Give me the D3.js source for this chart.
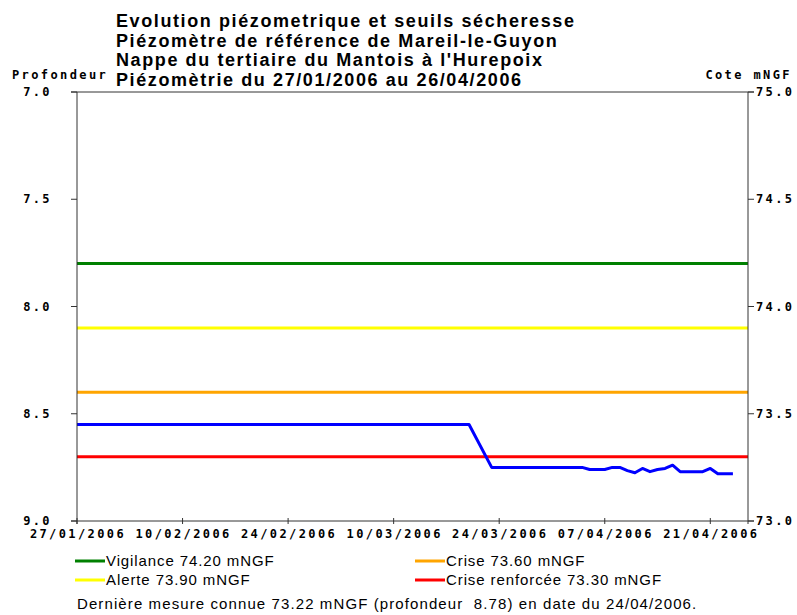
<!DOCTYPE html>
<html>
<head>
<meta charset="utf-8">
<script src="https://d3js.org/d3.v7.min.js"></script>
<style>
    body { margin: 0; background: #fff; }
    .mono { font-family: "DejaVu Sans Mono", monospace; font-weight: bold; font-size: 12px; letter-spacing: 2.4px; }
    .sans { font-family: "Liberation Sans", Arial, sans-serif; }
</style>
</head>
<body>
<script>

// Title lines
var titleLines = [
    "Evolution piézometrique et seuils sécheresse",
    "Piézomètre de référence de Mareil-le-Guyon",
    "Nappe du tertiaire du Mantois à l'Hurepoix",
    "Piézomètrie du 27/01/2006 au 26/04/2006"
];

// Measurement dates and depths (profondeur, m)
var dates = ["27/01/2006", "20/03/2006", "23/03/2006", "04/04/2006", "05/04/2006", "07/04/2006",
             "08/04/2006", "09/04/2006", "10/04/2006", "11/04/2006", "12/04/2006", "13/04/2006",
             "14/04/2006", "15/04/2006", "16/04/2006", "17/04/2006", "18/04/2006", "19/04/2006",
             "20/04/2006", "21/04/2006", "22/04/2006", "23/04/2006", "24/04/2006"];
var depths = [8.55, 8.55, 8.75, 8.75, 8.76, 8.76,
              8.75, 8.75, 8.765, 8.775, 8.755, 8.77,
              8.76, 8.755, 8.74, 8.77, 8.77, 8.77,
              8.77, 8.755, 8.78, 8.78, 8.78];

// Drought thresholds (mNGF)
var thresholdNames = ["Vigilance", "Alerte", "Crise", "Crise renforcée"];
var thresholdValues = [74.20, 73.90, 73.60, 73.30];
var thresholdColors = ["#008000", "#ffff00", "#ffa500", "#ff0000"];

// Axis ticks
var depthTicks = [7.0, 7.5, 8.0, 8.5, 9.0];
var coteTicks = [75.0, 74.5, 74.0, 73.5, 73.0];
var dateTicks = ["27/01/2006", "10/02/2006", "24/02/2006", "10/03/2006", "24/03/2006", "07/04/2006", "21/04/2006"];

var lastMeasure = "Dernière mesure connue 73.22 mNGF (profondeur  8.78) en date du 24/04/2006.";

var parse = d3.timeParse("%d/%m/%Y");

var width = 797, height = 615,
    plot = { left: 77, right: 748, top: 92, bottom: 521 };

var svg = d3.select("body").
            append("svg").
            attr("width", width).
            attr("height", height);

// Scales
var x = d3.scaleTime().
            domain([parse("27/01/2006"), parse("26/04/2006")]).
            range([plot.left, plot.right]);

var yDepth = d3.scaleLinear().domain([7, 9]).range([plot.top, plot.bottom]);
var yCote = d3.scaleLinear().domain([75, 73]).range([plot.top, plot.bottom]);

// Title
svg.append("g").
    selectAll("text").
    data(titleLines).
    enter().append("text").
    attr("class", "sans").
    attr("x", 116).
    attr("y", function(d, i) { return 27 + i * 19.5; }).
    style("font-size", "18px").
    style("font-weight", "bold").
    style("letter-spacing", "1.6px").
    text(function(d) { return d; });

// Axis titles
svg.append("text").attr("class", "mono").attr("x", 12).attr("y", 79).text("Profondeur");
svg.append("text").attr("class", "mono").attr("x", 792).attr("y", 79).
    attr("text-anchor", "end").text("Cote mNGF");

// Threshold lines
svg.append("g").
    selectAll("line").
    data(thresholdValues).
    enter().append("line").
    attr("x1", plot.left).
    attr("x2", plot.right).
    attr("y1", function(d) { return yCote(d); }).
    attr("y2", function(d) { return yCote(d); }).
    attr("stroke", function(d, i) { return thresholdColors[i]; }).
    attr("stroke-width", 3);

// Piezometric line
var line = d3.line().
            x(function(d, i) { return x(parse(dates[i])); }).
            y(function(d) { return yDepth(d); });

svg.append("path").
    datum(depths).
    attr("d", line).
    attr("fill", "none").
    attr("stroke", "#0000ff").
    attr("stroke-width", 3).
    attr("stroke-linejoin", "round");

// Frame (left, right, bottom axes)
var axisColor = "#333";
svg.append("line").attr("x1", plot.left).attr("x2", plot.left).
    attr("y1", plot.top).attr("y2", plot.bottom + 3).attr("stroke", axisColor);
svg.append("line").attr("x1", plot.right).attr("x2", plot.right).
    attr("y1", plot.top).attr("y2", plot.bottom + 3).attr("stroke", axisColor);
svg.append("line").attr("x1", plot.left - 6).attr("x2", plot.right + 6).
    attr("y1", plot.bottom).attr("y2", plot.bottom).attr("stroke", axisColor);
svg.append("line").attr("x1", plot.left - 6).attr("x2", plot.right + 6).
    attr("y1", plot.top).attr("y2", plot.top).attr("stroke", axisColor);

// Left ticks
var lt = svg.append("g").selectAll("g").data(depthTicks).enter().append("g");
lt.append("line").
    attr("x1", plot.left - 6).attr("x2", plot.left).
    attr("y1", function(d) { return yDepth(d); }).
    attr("y2", function(d) { return yDepth(d); }).
    attr("stroke", axisColor);
lt.append("text").
    attr("class", "mono").
    attr("x", 52).
    attr("y", function(d) { return yDepth(d) + 4; }).
    attr("text-anchor", "end").
    text(function(d) { return d.toFixed(1); });

// Right ticks
var rt = svg.append("g").selectAll("g").data(coteTicks).enter().append("g");
rt.append("line").
    attr("x1", plot.right).attr("x2", plot.right + 6).
    attr("y1", function(d) { return yCote(d); }).
    attr("y2", function(d) { return yCote(d); }).
    attr("stroke", axisColor);
rt.append("text").
    attr("class", "mono").
    attr("x", 756).
    attr("y", function(d) { return yCote(d) + 4; }).
    text(function(d) { return d.toFixed(1); });

// Bottom ticks
var bt = svg.append("g").selectAll("g").data(dateTicks).enter().append("g");
bt.append("line").
    attr("x1", function(d) { return x(parse(d)); }).
    attr("x2", function(d) { return x(parse(d)); }).
    attr("y1", plot.bottom - 3).attr("y2", plot.bottom + 3).
    attr("stroke", axisColor);
bt.append("text").
    attr("class", "mono").
    attr("x", function(d) { return x(parse(d)) + 1; }).
    attr("y", 538).
    attr("text-anchor", "middle").
    text(function(d) { return d; });

// Legend
var legend = svg.append("g").
                selectAll("g").
                data(thresholdValues).
                enter().append("g").
                attr("transform", function(d, i) {
                    var col = i < 2 ? 0 : 1, row = i % 2;
                    return "translate(" + (75 + col * 340) + "," + (561 + row * 19) + ")";
                });

legend.append("line").
    attr("x1", 0).attr("x2", 30).
    attr("stroke", function(d, i) { return thresholdColors[i]; }).
    attr("stroke-width", 3);

legend.append("text").
    attr("class", "sans").
    attr("x", 31).
    attr("y", 5).
    style("font-size", "15px").
    style("letter-spacing", "0.9px").
    text(function(d, i) { return thresholdNames[i] + " " + d.toFixed(2) + " mNGF"; });

svg.append("text").
    attr("class", "sans").
    attr("x", 77).
    attr("y", 609).
    style("white-space", "pre").
    style("font-size", "15px").
    style("letter-spacing", "1.1px").
    text(lastMeasure);

</script>
</body>
</html>
